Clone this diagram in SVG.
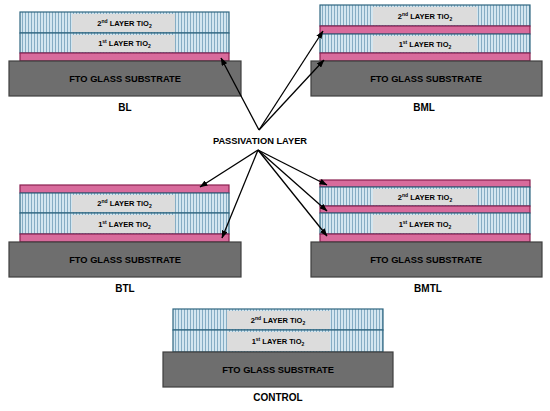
<svg xmlns="http://www.w3.org/2000/svg" width="550" height="411" viewBox="0 0 550 411">
<style>
.tio{fill:url(#hatch);stroke:#2f6680;stroke-width:1.2}
.lbl{fill:#dcdcdc}
.pink{fill:#d86b9c;stroke:#8a2150;stroke-width:1.2}
.sub{fill:#6e6e6e;stroke:#3e3e3e;stroke-width:1.2}
.t{font-family:"Liberation Sans",Arial,sans-serif;font-weight:bold;fill:#000;text-anchor:middle}
.tl{font-size:7.5px}
.ts{font-size:9.3px}
.tn{font-size:10px}
.conn{stroke:#000;stroke-width:1.3;fill:none;marker-end:url(#ah)}
</style>
<defs>
<pattern id="hatch" width="3" height="10" patternUnits="userSpaceOnUse">
<rect width="3" height="10" fill="#d3e6f0"/>
<line x1="1.5" y1="0" x2="1.5" y2="10" stroke="#86adc4" stroke-width="1"/>
</pattern>
<marker id="ah" markerWidth="8" markerHeight="6" refX="7.5" refY="3" orient="auto" markerUnits="userSpaceOnUse">
<path d="M0,0 L8,3 L0,6 z" fill="#000"/>
</marker>
</defs>
<rect width="550" height="411" fill="#fff"/>

<g id="BL">
<rect class="tio" x="20" y="12" width="209" height="21"/>
<rect class="lbl" x="72" y="14" width="103" height="18"/>
<text class="t tl" x="124.5" y="26">2<tspan font-size="5" dy="-3">nd</tspan><tspan dy="3"> LAYER TiO</tspan><tspan font-size="5" dy="1.5">2</tspan></text>
<rect class="tio" x="20" y="33" width="209" height="20"/>
<rect class="lbl" x="72" y="35" width="103" height="17"/>
<text class="t tl" x="124.5" y="46">1<tspan font-size="5" dy="-3">st</tspan><tspan dy="3"> LAYER TiO</tspan><tspan font-size="5" dy="1.5">2</tspan></text>
<rect class="pink" x="20" y="53" width="209" height="8"/>
<rect class="sub" x="9" y="61" width="232" height="35"/>
<text class="t ts" x="125" y="82">FTO GLASS SUBSTRATE</text>
<text class="t tn" x="125" y="111">BL</text>
</g>

<g id="BML">
<rect class="tio" x="320" y="5" width="210" height="21"/>
<rect class="lbl" x="373" y="7" width="104" height="18"/>
<text class="t tl" x="425" y="19">2<tspan font-size="5" dy="-3">nd</tspan><tspan dy="3"> LAYER TiO</tspan><tspan font-size="5" dy="1.5">2</tspan></text>
<rect class="pink" x="320" y="26" width="210" height="8"/>
<rect class="tio" x="320" y="34" width="210" height="19"/>
<rect class="lbl" x="373" y="36" width="104" height="16"/>
<text class="t tl" x="425" y="47">1<tspan font-size="5" dy="-3">st</tspan><tspan dy="3"> LAYER TiO</tspan><tspan font-size="5" dy="1.5">2</tspan></text>
<rect class="pink" x="320" y="53" width="210" height="8"/>
<rect class="sub" x="311" y="61" width="231" height="35"/>
<text class="t ts" x="426" y="82">FTO GLASS SUBSTRATE</text>
<text class="t tn" x="424" y="111">BML</text>
</g>

<g id="PASSIVATION">
<text class="t ts" x="260" y="144">PASSIVATION LAYER</text>
</g>

<g id="BTL">
<rect class="pink" x="20" y="185" width="209" height="8"/>
<rect class="tio" x="20" y="193" width="209" height="20"/>
<rect class="lbl" x="72" y="195" width="103" height="17"/>
<text class="t tl" x="124.5" y="206">2<tspan font-size="5" dy="-3">nd</tspan><tspan dy="3"> LAYER TiO</tspan><tspan font-size="5" dy="1.5">2</tspan></text>
<rect class="tio" x="20" y="213" width="209" height="21"/>
<rect class="lbl" x="72" y="215" width="103" height="18"/>
<text class="t tl" x="124.5" y="227">1<tspan font-size="5" dy="-3">st</tspan><tspan dy="3"> LAYER TiO</tspan><tspan font-size="5" dy="1.5">2</tspan></text>
<rect class="pink" x="20" y="234" width="209" height="8"/>
<rect class="sub" x="9" y="242" width="232" height="35"/>
<text class="t ts" x="125" y="263">FTO GLASS SUBSTRATE</text>
<text class="t tn" x="125" y="292">BTL</text>
</g>

<g id="BMTL">
<rect class="pink" x="320" y="180" width="210" height="7"/>
<rect class="tio" x="320" y="187" width="210" height="19"/>
<rect class="lbl" x="373" y="189" width="104" height="16"/>
<text class="t tl" x="425" y="200">2<tspan font-size="5" dy="-3">nd</tspan><tspan dy="3"> LAYER TiO</tspan><tspan font-size="5" dy="1.5">2</tspan></text>
<rect class="pink" x="320" y="206" width="210" height="7"/>
<rect class="tio" x="320" y="213" width="210" height="21"/>
<rect class="lbl" x="373" y="215" width="104" height="18"/>
<text class="t tl" x="425" y="227">1<tspan font-size="5" dy="-3">st</tspan><tspan dy="3"> LAYER TiO</tspan><tspan font-size="5" dy="1.5">2</tspan></text>
<rect class="pink" x="320" y="234" width="210" height="8"/>
<rect class="sub" x="311" y="242" width="231" height="35"/>
<text class="t ts" x="426" y="263">FTO GLASS SUBSTRATE</text>
<text class="t tn" x="428" y="292">BMTL</text>
</g>

<g id="CONTROL">
<rect class="tio" x="173" y="309" width="210" height="21"/>
<rect class="lbl" x="227" y="311" width="103" height="18"/>
<text class="t tl" x="278" y="323">2<tspan font-size="5" dy="-3">nd</tspan><tspan dy="3"> LAYER TiO</tspan><tspan font-size="5" dy="1.5">2</tspan></text>
<rect class="tio" x="173" y="330" width="210" height="22"/>
<rect class="lbl" x="227" y="332" width="103" height="19"/>
<text class="t tl" x="278" y="344">1<tspan font-size="5" dy="-3">st</tspan><tspan dy="3"> LAYER TiO</tspan><tspan font-size="5" dy="1.5">2</tspan></text>
<rect class="sub" x="163" y="352" width="230" height="35"/>
<text class="t ts" x="278" y="373">FTO GLASS SUBSTRATE</text>
<text class="t tn" x="278" y="401">CONTROL</text>
</g>

<g id="connectors">
<line class="conn" x1="259" y1="130" x2="221" y2="58"/>
<line class="conn" x1="259" y1="130" x2="323" y2="31"/>
<line class="conn" x1="259" y1="130" x2="324" y2="60"/>
<line class="conn" x1="258" y1="150" x2="200" y2="187"/>
<line class="conn" x1="258" y1="150" x2="222" y2="238"/>
<line class="conn" x1="258" y1="150" x2="327" y2="185"/>
<line class="conn" x1="258" y1="150" x2="327" y2="211"/>
<line class="conn" x1="258" y1="150" x2="327" y2="236"/>
</g>
</svg>
